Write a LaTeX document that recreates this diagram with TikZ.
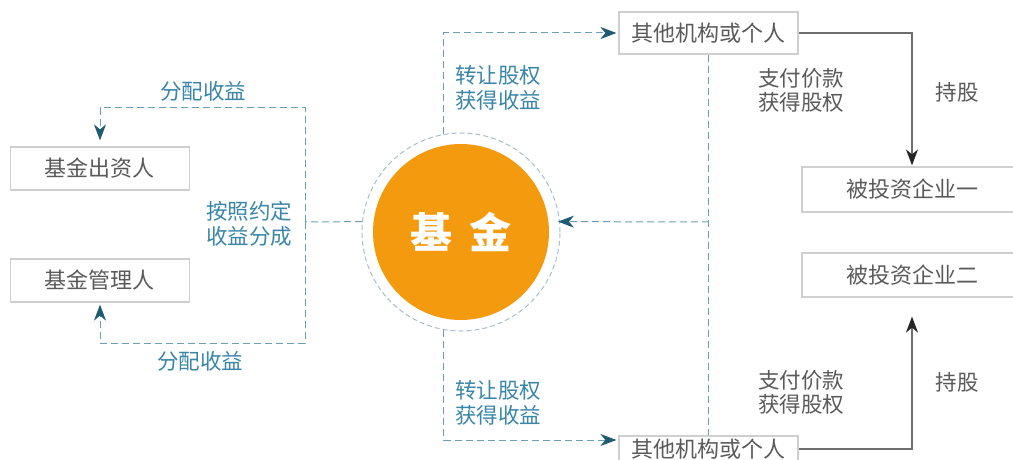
\documentclass[tikz,border=0pt]{standalone}
\usepackage{fontspec}
\setmainfont{Noto Sans CJK SC}
\usetikzlibrary{arrows.meta}
\definecolor{bluet}{HTML}{3A86A8}
\definecolor{dashc}{HTML}{6A9FB8}
\definecolor{arrc}{HTML}{1F5C74}
\definecolor{orng}{HTML}{F39A0E}
\definecolor{ringc}{HTML}{A9C0CC}
\definecolor{boxc}{HTML}{CFCFCF}
\definecolor{txtg}{HTML}{5A5A5A}
\definecolor{linec}{HTML}{6E6E6E}
\tikzset{
  box/.style={draw=boxc, line width=1.2pt, text=txtg, font=\fontsize{22}{24}\selectfont, inner sep=0pt, minimum width=179pt, minimum height=43pt},
  bluelab/.style={text=bluet, font=\fontsize{21.5}{25}\selectfont, align=left, inner sep=0pt},
  graylab/.style={text=txtg, font=\fontsize{21.5}{24}\selectfont, align=left, inner sep=0pt},
  dl/.style={draw=dashc, line width=1pt, dash pattern=on 7pt off 4pt},
  bluearrow/.style={-{Stealth[length=16pt,width=12pt,inset=5pt,color=arrc]}},
  sl/.style={draw=linec, line width=1.3pt},
  grayarrow/.style={-{Stealth[length=16pt,width=12pt,inset=5pt,color=black!85]}}
}
\begin{document}
\begin{tikzpicture}[x=1pt,y=-1pt]
\clip (0,0) rectangle (1013,460);
\fill[white] (0,0) rectangle (1013,460);

% boxes
\node[box] (inv) at (100,168.5) {基金出资人};
\node[box] (mgr) at (100,280.5) {基金管理人};
\node[box, minimum height=42pt] (o1) at (708.5,33) {其他机构或个人};
\node[box, minimum height=26pt] (o2) at (708.5,449) {其他机构或个人};
\node[box, minimum width=220pt, minimum height=45pt] (c1) at (912,189.5) {被投资企业一};
\node[box, minimum width=220pt, minimum height=44pt] (c2) at (912,275) {被投资企业二};

% fund circle
\node[circle, fill=orng, minimum size=176pt, inner sep=0pt, text=white,
      font=\fontsize{42}{46}\selectfont\bfseries] (fund) at (461,232) {基\hspace{18pt}金};
\node[circle, draw=ringc, line width=1pt, dash pattern=on 5pt off 3pt, minimum size=198pt, inner sep=0pt] (ring) at (461,232) {};

% left loop
\coordinate (jL) at (305,222);
\coordinate (tl) at (305,108);
\coordinate (bl) at (305,343);
\draw[dl] (ring.174) -- (jL);
\draw[dl, bluearrow, shorten >=6pt] (jL) -- (tl) -| (inv.north);
\draw[dl, bluearrow, shorten >=2pt] (jL) -- (bl) -| (mgr.south);

% top / bottom transfers
\draw[dl, bluearrow, shorten >=2pt] (ring.100) |- (o1.west);
\draw[dl, bluearrow, shorten >=2pt] (ring.260) |- ([yshift=9pt]o2.west);

% right payment line
\coordinate (jR) at (709,222);
\draw[dl] (o1.south) -- (o2.north);
\draw[dl, bluearrow, shorten >=-2pt] (jR) -- (ring.6);

% holdings
\draw[sl, grayarrow, shorten >=1pt] (o1.east) -| (c1.north);
\draw[sl, grayarrow, shorten >=19pt] (o2.east) -| (c2.south);

% labels
\node[bluelab] (l1) at (203,91) {分配收益};
\node[bluelab] (l2) at (200,361) {分配收益};
\node[bluelab, align=center] (l3) at (249,224) {按照约定\\收益分成};
\node[bluelab, anchor=west] (l4) at (455,88) {转让股权\\获得收益};
\node[bluelab, anchor=west] (l5) at (455,403) {转让股权\\获得收益};
\node[graylab, anchor=west] (l6) at (758,90) {支付价款\\获得股权};
\node[graylab, anchor=west] (l7) at (758,392) {支付价款\\获得股权};
\node[graylab] (l8) at (957,92) {持股};
\node[graylab] (l9) at (957,382) {持股};
\end{tikzpicture}
\end{document}
